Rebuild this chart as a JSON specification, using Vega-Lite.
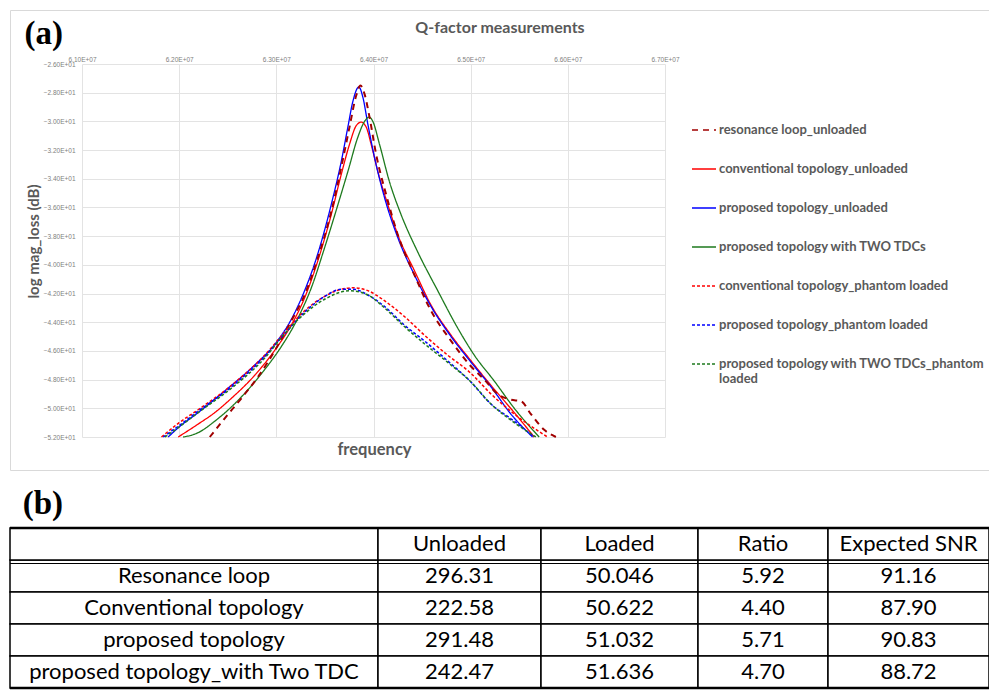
{
  "$schema": "https://vega.github.io/schema/vega-lite/v6.json",
  "padding": {"left": 8, "top": 9, "right": 0, "bottom": 0},
  "config": {"view": {"stroke": null}},
  "spacing": 58,
  "bounds": "flush",
  "datasets": {
    "curves": [
      {"s": "resonance  loop_unloaded", "f": 62.315, "db": -52.0},
      {"s": "resonance  loop_unloaded", "f": 62.469, "db": -50.7},
      {"s": "resonance  loop_unloaded", "f": 62.64, "db": -49.3},
      {"s": "resonance  loop_unloaded", "f": 62.812, "db": -47.8},
      {"s": "resonance  loop_unloaded", "f": 63.0, "db": -45.8},
      {"s": "resonance  loop_unloaded", "f": 63.154, "db": -43.9},
      {"s": "resonance  loop_unloaded", "f": 63.291, "db": -42.1},
      {"s": "resonance  loop_unloaded", "f": 63.428, "db": -39.5},
      {"s": "resonance  loop_unloaded", "f": 63.565, "db": -36.3},
      {"s": "resonance  loop_unloaded", "f": 63.668, "db": -33.2},
      {"s": "resonance  loop_unloaded", "f": 63.753, "db": -30.4},
      {"s": "resonance  loop_unloaded", "f": 63.822, "db": -28.2},
      {"s": "resonance  loop_unloaded", "f": 63.866, "db": -27.5},
      {"s": "resonance  loop_unloaded", "f": 63.908, "db": -28.1},
      {"s": "resonance  loop_unloaded", "f": 63.959, "db": -29.7},
      {"s": "resonance  loop_unloaded", "f": 64.027, "db": -32.3},
      {"s": "resonance  loop_unloaded", "f": 64.13, "db": -35.1},
      {"s": "resonance  loop_unloaded", "f": 64.25, "db": -37.9},
      {"s": "resonance  loop_unloaded", "f": 64.421, "db": -40.7},
      {"s": "resonance  loop_unloaded", "f": 64.592, "db": -43.2},
      {"s": "resonance  loop_unloaded", "f": 64.798, "db": -45.3},
      {"s": "resonance  loop_unloaded", "f": 64.993, "db": -47.0},
      {"s": "resonance  loop_unloaded", "f": 65.14, "db": -48.0},
      {"s": "resonance  loop_unloaded", "f": 65.277, "db": -49.0},
      {"s": "resonance  loop_unloaded", "f": 65.414, "db": -49.4},
      {"s": "resonance  loop_unloaded", "f": 65.517, "db": -49.5},
      {"s": "resonance  loop_unloaded", "f": 65.62, "db": -50.4},
      {"s": "resonance  loop_unloaded", "f": 65.757, "db": -51.5},
      {"s": "resonance  loop_unloaded", "f": 65.877, "db": -52.0},

      {"s": "conventional topology_unloaded", "f": 61.99, "db": -52.0},
      {"s": "conventional topology_unloaded", "f": 62.195, "db": -51.1},
      {"s": "conventional topology_unloaded", "f": 62.366, "db": -50.3},
      {"s": "conventional topology_unloaded", "f": 62.538, "db": -49.3},
      {"s": "conventional topology_unloaded", "f": 62.777, "db": -47.7},
      {"s": "conventional topology_unloaded", "f": 63.0, "db": -45.8},
      {"s": "conventional topology_unloaded", "f": 63.154, "db": -44.2},
      {"s": "conventional topology_unloaded", "f": 63.291, "db": -42.3},
      {"s": "conventional topology_unloaded", "f": 63.428, "db": -39.7},
      {"s": "conventional topology_unloaded", "f": 63.565, "db": -36.5},
      {"s": "conventional topology_unloaded", "f": 63.668, "db": -33.7},
      {"s": "conventional topology_unloaded", "f": 63.753, "db": -31.6},
      {"s": "conventional topology_unloaded", "f": 63.822, "db": -30.3},
      {"s": "conventional topology_unloaded", "f": 63.873, "db": -30.05},
      {"s": "conventional topology_unloaded", "f": 63.925, "db": -30.4},
      {"s": "conventional topology_unloaded", "f": 63.976, "db": -31.6},
      {"s": "conventional topology_unloaded", "f": 64.045, "db": -33.5},
      {"s": "conventional topology_unloaded", "f": 64.147, "db": -35.8},
      {"s": "conventional topology_unloaded", "f": 64.25, "db": -37.9},
      {"s": "conventional topology_unloaded", "f": 64.421, "db": -40.4},
      {"s": "conventional topology_unloaded", "f": 64.592, "db": -42.8},
      {"s": "conventional topology_unloaded", "f": 64.798, "db": -44.9},
      {"s": "conventional topology_unloaded", "f": 64.993, "db": -46.6},
      {"s": "conventional topology_unloaded", "f": 65.209, "db": -48.4},
      {"s": "conventional topology_unloaded", "f": 65.449, "db": -50.3},
      {"s": "conventional topology_unloaded", "f": 65.654, "db": -52.0},

      {"s": "proposed topology_unloaded", "f": 61.887, "db": -52.0},
      {"s": "proposed topology_unloaded", "f": 62.0, "db": -51.3},
      {"s": "proposed topology_unloaded", "f": 62.195, "db": -50.3},
      {"s": "proposed topology_unloaded", "f": 62.503, "db": -48.6},
      {"s": "proposed topology_unloaded", "f": 62.743, "db": -47.2},
      {"s": "proposed topology_unloaded", "f": 63.0, "db": -45.4},
      {"s": "proposed topology_unloaded", "f": 63.154, "db": -43.8},
      {"s": "proposed topology_unloaded", "f": 63.291, "db": -41.8},
      {"s": "proposed topology_unloaded", "f": 63.428, "db": -39.2},
      {"s": "proposed topology_unloaded", "f": 63.565, "db": -35.8},
      {"s": "proposed topology_unloaded", "f": 63.668, "db": -32.8},
      {"s": "proposed topology_unloaded", "f": 63.736, "db": -30.4},
      {"s": "proposed topology_unloaded", "f": 63.788, "db": -28.6},
      {"s": "proposed topology_unloaded", "f": 63.849, "db": -27.6},
      {"s": "proposed topology_unloaded", "f": 63.89, "db": -28.3},
      {"s": "proposed topology_unloaded", "f": 63.942, "db": -30.2},
      {"s": "proposed topology_unloaded", "f": 64.01, "db": -32.5},
      {"s": "proposed topology_unloaded", "f": 64.113, "db": -35.3},
      {"s": "proposed topology_unloaded", "f": 64.25, "db": -38.1},
      {"s": "proposed topology_unloaded", "f": 64.421, "db": -40.7},
      {"s": "proposed topology_unloaded", "f": 64.592, "db": -42.9},
      {"s": "proposed topology_unloaded", "f": 64.798, "db": -45.0},
      {"s": "proposed topology_unloaded", "f": 64.993, "db": -46.7},
      {"s": "proposed topology_unloaded", "f": 65.209, "db": -48.5},
      {"s": "proposed topology_unloaded", "f": 65.414, "db": -50.4},
      {"s": "proposed topology_unloaded", "f": 65.637, "db": -52.0},

      {"s": "proposed topology with TWO TDCs", "f": 62.041, "db": -52.0},
      {"s": "proposed topology with TWO TDCs", "f": 62.195, "db": -51.7},
      {"s": "proposed topology with TWO TDCs", "f": 62.366, "db": -50.9},
      {"s": "proposed topology with TWO TDCs", "f": 62.538, "db": -49.9},
      {"s": "proposed topology with TWO TDCs", "f": 62.709, "db": -48.7},
      {"s": "proposed topology with TWO TDCs", "f": 62.88, "db": -47.3},
      {"s": "proposed topology with TWO TDCs", "f": 63.051, "db": -45.7},
      {"s": "proposed topology with TWO TDCs", "f": 63.223, "db": -43.7},
      {"s": "proposed topology with TWO TDCs", "f": 63.36, "db": -41.6},
      {"s": "proposed topology with TWO TDCs", "f": 63.497, "db": -38.8},
      {"s": "proposed topology with TWO TDCs", "f": 63.634, "db": -35.8},
      {"s": "proposed topology with TWO TDCs", "f": 63.736, "db": -33.5},
      {"s": "proposed topology with TWO TDCs", "f": 63.839, "db": -31.1},
      {"s": "proposed topology with TWO TDCs", "f": 63.908, "db": -30.0},
      {"s": "proposed topology with TWO TDCs", "f": 63.955, "db": -29.7},
      {"s": "proposed topology with TWO TDCs", "f": 63.993, "db": -30.0},
      {"s": "proposed topology with TWO TDCs", "f": 64.062, "db": -31.6},
      {"s": "proposed topology with TWO TDCs", "f": 64.164, "db": -34.2},
      {"s": "proposed topology with TWO TDCs", "f": 64.284, "db": -36.5},
      {"s": "proposed topology with TWO TDCs", "f": 64.455, "db": -39.1},
      {"s": "proposed topology with TWO TDCs", "f": 64.661, "db": -41.8},
      {"s": "proposed topology with TWO TDCs", "f": 64.866, "db": -44.4},
      {"s": "proposed topology with TWO TDCs", "f": 65.038, "db": -46.3},
      {"s": "proposed topology with TWO TDCs", "f": 65.243, "db": -48.1},
      {"s": "proposed topology with TWO TDCs", "f": 65.449, "db": -50.0},
      {"s": "proposed topology with TWO TDCs", "f": 65.705, "db": -52.0},

      {"s": "conventional topology_phantom loaded", "f": 61.818, "db": -52.0},
      {"s": "conventional topology_phantom loaded", "f": 62.0, "db": -51.0},
      {"s": "conventional topology_phantom loaded", "f": 62.195, "db": -50.1},
      {"s": "conventional topology_phantom loaded", "f": 62.538, "db": -48.4},
      {"s": "conventional topology_phantom loaded", "f": 62.88, "db": -46.3},
      {"s": "conventional topology_phantom loaded", "f": 63.086, "db": -44.7},
      {"s": "conventional topology_phantom loaded", "f": 63.291, "db": -43.2},
      {"s": "conventional topology_phantom loaded", "f": 63.497, "db": -42.2},
      {"s": "conventional topology_phantom loaded", "f": 63.668, "db": -41.7},
      {"s": "conventional topology_phantom loaded", "f": 63.798, "db": -41.6},
      {"s": "conventional topology_phantom loaded", "f": 63.942, "db": -41.8},
      {"s": "conventional topology_phantom loaded", "f": 64.113, "db": -42.5},
      {"s": "conventional topology_phantom loaded", "f": 64.318, "db": -43.6},
      {"s": "conventional topology_phantom loaded", "f": 64.524, "db": -44.9},
      {"s": "conventional topology_phantom loaded", "f": 64.764, "db": -46.3},
      {"s": "conventional topology_phantom loaded", "f": 64.993, "db": -47.5},
      {"s": "conventional topology_phantom loaded", "f": 65.209, "db": -49.0},
      {"s": "conventional topology_phantom loaded", "f": 65.449, "db": -50.4},
      {"s": "conventional topology_phantom loaded", "f": 65.791, "db": -52.0},

      {"s": "proposed topology_phantom loaded", "f": 61.836, "db": -52.0},
      {"s": "proposed topology_phantom loaded", "f": 62.0, "db": -51.2},
      {"s": "proposed topology_phantom loaded", "f": 62.195, "db": -50.2},
      {"s": "proposed topology_phantom loaded", "f": 62.538, "db": -48.5},
      {"s": "proposed topology_phantom loaded", "f": 62.88, "db": -46.4},
      {"s": "proposed topology_phantom loaded", "f": 63.086, "db": -44.8},
      {"s": "proposed topology_phantom loaded", "f": 63.291, "db": -43.3},
      {"s": "proposed topology_phantom loaded", "f": 63.497, "db": -42.2},
      {"s": "proposed topology_phantom loaded", "f": 63.668, "db": -41.7},
      {"s": "proposed topology_phantom loaded", "f": 63.788, "db": -41.7},
      {"s": "proposed topology_phantom loaded", "f": 63.942, "db": -42.1},
      {"s": "proposed topology_phantom loaded", "f": 64.113, "db": -42.9},
      {"s": "proposed topology_phantom loaded", "f": 64.318, "db": -44.2},
      {"s": "proposed topology_phantom loaded", "f": 64.524, "db": -45.3},
      {"s": "proposed topology_phantom loaded", "f": 64.764, "db": -46.7},
      {"s": "proposed topology_phantom loaded", "f": 64.993, "db": -48.1},
      {"s": "proposed topology_phantom loaded", "f": 65.209, "db": -49.7},
      {"s": "proposed topology_phantom loaded", "f": 65.449, "db": -50.9},
      {"s": "proposed topology_phantom loaded", "f": 65.654, "db": -52.0},

      {"s": "proposed topology with TWO TDCs_phantom loaded", "f": 61.853, "db": -52.0},
      {"s": "proposed topology with TWO TDCs_phantom loaded", "f": 62.0, "db": -51.3},
      {"s": "proposed topology with TWO TDCs_phantom loaded", "f": 62.195, "db": -50.3},
      {"s": "proposed topology with TWO TDCs_phantom loaded", "f": 62.538, "db": -48.6},
      {"s": "proposed topology with TWO TDCs_phantom loaded", "f": 62.88, "db": -46.5},
      {"s": "proposed topology with TWO TDCs_phantom loaded", "f": 63.086, "db": -44.8},
      {"s": "proposed topology with TWO TDCs_phantom loaded", "f": 63.291, "db": -43.4},
      {"s": "proposed topology with TWO TDCs_phantom loaded", "f": 63.497, "db": -42.4},
      {"s": "proposed topology with TWO TDCs_phantom loaded", "f": 63.753, "db": -41.8},
      {"s": "proposed topology with TWO TDCs_phantom loaded", "f": 63.942, "db": -42.1},
      {"s": "proposed topology with TWO TDCs_phantom loaded", "f": 64.113, "db": -43.0},
      {"s": "proposed topology with TWO TDCs_phantom loaded", "f": 64.318, "db": -44.3},
      {"s": "proposed topology with TWO TDCs_phantom loaded", "f": 64.524, "db": -45.5},
      {"s": "proposed topology with TWO TDCs_phantom loaded", "f": 64.764, "db": -46.8},
      {"s": "proposed topology with TWO TDCs_phantom loaded", "f": 64.993, "db": -48.1},
      {"s": "proposed topology with TWO TDCs_phantom loaded", "f": 65.209, "db": -49.7},
      {"s": "proposed topology with TWO TDCs_phantom loaded", "f": 65.449, "db": -51.0},
      {"s": "proposed topology with TWO TDCs_phantom loaded", "f": 65.671, "db": -52.0}
    ],
    "qf": [
      {"design": "Resonance loop", "Unloaded": 296.31, "Loaded": 50.046, "Ratio": 5.92, "SNR": 91.16},
      {"design": "Conventional topology", "Unloaded": 222.58, "Loaded": 50.622, "Ratio": 4.40, "SNR": 87.90},
      {"design": "proposed topology", "Unloaded": 291.48, "Loaded": 51.032, "Ratio": 5.71, "SNR": 90.83},
      {"design": "proposed topology_with Two TDC", "Unloaded": 242.47, "Loaded": 51.636, "Ratio": 4.70, "SNR": 88.72}
    ]
  },
  "vconcat": [
    {
      "width": 980,
      "height": 460,
      "view": {"stroke": "#d9d9d9", "strokeWidth": 1},
      "title": {"text": "Q-factor measurements", "frame": "group", "anchor": "middle", "offset": -26, "font": "Lato", "fontSize": 16, "fontWeight": "bold", "color": "#595959"},
      "data": {"name": "curves"},
      "resolve": {"axis": {"x": "independent", "y": "independent"}},
      "encoding": {
        "color": {
          "field": "s", "type": "nominal",
          "scale": {
            "domain": ["resonance  loop_unloaded", "conventional topology_unloaded", "proposed topology_unloaded", "proposed topology with TWO TDCs", "conventional topology_phantom loaded", "proposed topology_phantom loaded", "proposed topology with TWO TDCs_phantom loaded"],
            "range": ["#a00000", "#ff0000", "#0000ff", "#1e7a1e", "#ff0000", "#0000ff", "#1e7a1e"]
          },
          "legend": {
            "orient": "none", "legendX": 681, "legendY": 107, "title": null, "padding": 0,
            "symbolType": "stroke", "symbolSize": 576, "symbolStrokeWidth": 1.6,
            "labelFont": "Lato", "labelFontSize": 13, "labelFontWeight": "bold", "labelColor": "#595959",
            "labelOffset": 2, "labelLimit": 400, "rowPadding": 19,
            "labelExpr": "datum.label == 'proposed topology with TWO TDCs_phantom loaded' ? ['proposed topology with TWO TDCs_phantom', 'loaded'] : datum.label"
          }
        },
        "strokeDash": {
          "field": "s", "type": "nominal",
          "scale": {
            "domain": ["resonance  loop_unloaded", "conventional topology_unloaded", "proposed topology_unloaded", "proposed topology with TWO TDCs", "conventional topology_phantom loaded", "proposed topology_phantom loaded", "proposed topology with TWO TDCs_phantom loaded"],
            "range": [[6, 5], [1, 0], [1, 0], [1, 0], [3, 2], [3, 2], [3, 2]]
          },
          "legend": {
            "orient": "none", "legendX": 681, "legendY": 107, "title": null, "padding": 0,
            "symbolType": "stroke", "symbolSize": 576, "symbolStrokeWidth": 1.6,
            "labelFont": "Lato", "labelFontSize": 13, "labelFontWeight": "bold", "labelColor": "#595959",
            "labelOffset": 2, "labelLimit": 400, "rowPadding": 19,
            "labelExpr": "datum.label == 'proposed topology with TWO TDCs_phantom loaded' ? ['proposed topology with TWO TDCs_phantom', 'loaded'] : datum.label"
          }
        }
      },
      "layer": [
        {
          "transform": [{"filter": "datum.s != 'resonance  loop_unloaded' && indexof(datum.s, 'phantom') < 0"}],
          "mark": {"type": "line", "interpolate": "monotone", "strokeWidth": 1.3},
          "encoding": {
            "x": {
              "field": "f", "type": "quantitative",
              "scale": {"domain": [61, 67], "range": [72, 655], "nice": false, "zero": false},
              "axis": {
                "orient": "top", "offset": -54, "values": [61, 62, 63, 64, 65, 66, 67],
                "labelExpr": "replace(format(datum.value * 1000000, '.2e'), 'e+', 'E+0')",
                "grid": true, "gridColor": "#e3e3e3", "gridWidth": 1, "ticks": false, "domain": false,
                "labelFont": "Liberation Sans", "labelFontSize": 6.5, "labelColor": "#808080", "labelPadding": 2,
                "labelFlush": false, "labelOverlap": false,
                "title": "(a)", "titleFont": "Liberation Serif", "titleFontSize": 33, "titleFontWeight": "bold", "titleColor": "#000000",
                "titleAlign": "left", "titleAnchor": "start", "titleX": 14, "titleY": -21, "titleBaseline": "alphabetic"
              }
            },
            "y": {
              "field": "db", "type": "quantitative",
              "scale": {"domain": [-52, -26], "range": [427, 54], "nice": false, "zero": false},
              "axis": {
                "orient": "left", "offset": -72, "values": [-52, -50, -48, -46, -44, -42, -40, -38, -36, -34, -32, -30, -28, -26],
                "labelExpr": "replace(format(datum.value, '.2e'), 'e+', 'E+0')",
                "grid": true, "gridColor": "#e3e3e3", "gridWidth": 1, "ticks": false, "domain": false,
                "labelFont": "Liberation Sans", "labelFontSize": 6.5, "labelColor": "#808080", "labelPadding": 7,
                "labelFlush": false, "labelOverlap": false,
                "title": "log mag_loss (dB)", "titleFont": "Lato", "titleFontSize": 15, "titleFontWeight": "bold", "titleColor": "#595959",
                "titleAngle": -90, "titleX": -49, "titleY": 231, "titleBaseline": "middle", "titleAlign": "center"
              }
            }
          }
        },
        {
          "transform": [{"filter": "datum.s == 'resonance  loop_unloaded'"}],
          "mark": {"type": "line", "interpolate": "monotone", "strokeWidth": 2},
          "encoding": {
            "x": {"field": "f", "type": "quantitative", "axis": null},
            "y": {"field": "db", "type": "quantitative", "axis": null}
          }
        },
        {
          "transform": [{"filter": "indexof(datum.s, 'phantom') >= 0"}],
          "mark": {"type": "line", "interpolate": "monotone", "strokeWidth": 1.5},
          "encoding": {
            "x": {
              "field": "f", "type": "quantitative",
              "axis": {
                "orient": "bottom", "offset": -33, "labels": false, "ticks": false, "domain": false, "grid": false,
                "title": "frequency", "titleFont": "Lato", "titleFontSize": 16.5, "titleFontWeight": "bold", "titleColor": "#595959",
                "titleX": 364, "titleY": 17, "titleBaseline": "alphabetic", "titleAlign": "center"
              }
            },
            "y": {"field": "db", "type": "quantitative", "axis": null}
          }
        }
      ]
    },
    {
      "title": {"text": "(b)", "anchor": "start", "dx": 14, "offset": 6, "font": "Liberation Serif", "fontSize": 33, "fontWeight": "bold", "color": "#000000"},
      "spacing": 0,
      "bounds": "flush",
      "hconcat": [
        {
          "width": 368, "height": 160,
          "data": {"name": "qf"},
          "encoding": {"y": {"field": "design", "type": "nominal", "axis": null, "scale": {"domain": ["hdr", "Resonance loop", "Conventional topology", "proposed topology", "proposed topology_with Two TDC"], "paddingInner": 0, "paddingOuter": 0}}},
          "layer": [
            {"mark": {"type": "rect", "fill": "white", "stroke": "black", "strokeWidth": 1.5}},
            {"data": {"values": [{}]}, "mark": {"type": "rect", "fill": "white", "stroke": "black", "strokeWidth": 1.5}, "encoding": {"y": {"datum": "hdr", "type": "nominal"}}},
            {"data": {"values": [{}]}, "mark": {"type": "rule", "yOffset": 3.5, "color": "black", "strokeWidth": 1}, "encoding": {"y": {"datum": "hdr", "type": "nominal", "bandPosition": 1}}},
            {"data": {"values": [{}]}, "mark": {"type": "rule", "color": "black", "strokeWidth": 2.5}, "encoding": {"y": {"datum": "hdr", "type": "nominal", "bandPosition": 0}}},
            {"data": {"values": [{}]}, "mark": {"type": "rule", "color": "black", "strokeWidth": 2.5}, "encoding": {"y": {"datum": "proposed topology_with Two TDC", "type": "nominal", "bandPosition": 1}}},
            {"mark": {"type": "text", "font": "Lato", "fontSize": 22, "color": "black"}, "encoding": {"text": {"field": "design"}}}
          ]
        },
        {
          "width": 163, "height": 160,
          "data": {"name": "qf"},
          "encoding": {"y": {"field": "design", "type": "nominal", "axis": null, "scale": {"domain": ["hdr", "Resonance loop", "Conventional topology", "proposed topology", "proposed topology_with Two TDC"], "paddingInner": 0, "paddingOuter": 0}}},
          "layer": [
            {"mark": {"type": "rect", "fill": "white", "stroke": "black", "strokeWidth": 1.5}},
            {"data": {"values": [{}]}, "mark": {"type": "rect", "fill": "white", "stroke": "black", "strokeWidth": 1.5}, "encoding": {"y": {"datum": "hdr", "type": "nominal"}}},
            {"data": {"values": [{}]}, "mark": {"type": "rule", "yOffset": 3.5, "color": "black", "strokeWidth": 1}, "encoding": {"y": {"datum": "hdr", "type": "nominal", "bandPosition": 1}}},
            {"data": {"values": [{}]}, "mark": {"type": "rule", "color": "black", "strokeWidth": 2.5}, "encoding": {"y": {"datum": "hdr", "type": "nominal", "bandPosition": 0}}},
            {"data": {"values": [{}]}, "mark": {"type": "rule", "color": "black", "strokeWidth": 2.5}, "encoding": {"y": {"datum": "proposed topology_with Two TDC", "type": "nominal", "bandPosition": 1}}},
            {"mark": {"type": "text", "font": "Lato", "fontSize": 22, "color": "black"}, "encoding": {"text": {"field": "Unloaded", "format": ".2f"}}},
            {"data": {"values": [{}]}, "mark": {"type": "text", "font": "Lato", "fontSize": 22, "color": "black"}, "encoding": {"y": {"datum": "hdr", "type": "nominal"}, "text": {"value": "Unloaded"}}}
          ]
        },
        {
          "width": 157, "height": 160,
          "data": {"name": "qf"},
          "encoding": {"y": {"field": "design", "type": "nominal", "axis": null, "scale": {"domain": ["hdr", "Resonance loop", "Conventional topology", "proposed topology", "proposed topology_with Two TDC"], "paddingInner": 0, "paddingOuter": 0}}},
          "layer": [
            {"mark": {"type": "rect", "fill": "white", "stroke": "black", "strokeWidth": 1.5}},
            {"data": {"values": [{}]}, "mark": {"type": "rect", "fill": "white", "stroke": "black", "strokeWidth": 1.5}, "encoding": {"y": {"datum": "hdr", "type": "nominal"}}},
            {"data": {"values": [{}]}, "mark": {"type": "rule", "yOffset": 3.5, "color": "black", "strokeWidth": 1}, "encoding": {"y": {"datum": "hdr", "type": "nominal", "bandPosition": 1}}},
            {"data": {"values": [{}]}, "mark": {"type": "rule", "color": "black", "strokeWidth": 2.5}, "encoding": {"y": {"datum": "hdr", "type": "nominal", "bandPosition": 0}}},
            {"data": {"values": [{}]}, "mark": {"type": "rule", "color": "black", "strokeWidth": 2.5}, "encoding": {"y": {"datum": "proposed topology_with Two TDC", "type": "nominal", "bandPosition": 1}}},
            {"mark": {"type": "text", "font": "Lato", "fontSize": 22, "color": "black"}, "encoding": {"text": {"field": "Loaded", "format": ".3f"}}},
            {"data": {"values": [{}]}, "mark": {"type": "text", "font": "Lato", "fontSize": 22, "color": "black"}, "encoding": {"y": {"datum": "hdr", "type": "nominal"}, "text": {"value": "Loaded"}}}
          ]
        },
        {
          "width": 130, "height": 160,
          "data": {"name": "qf"},
          "encoding": {"y": {"field": "design", "type": "nominal", "axis": null, "scale": {"domain": ["hdr", "Resonance loop", "Conventional topology", "proposed topology", "proposed topology_with Two TDC"], "paddingInner": 0, "paddingOuter": 0}}},
          "layer": [
            {"mark": {"type": "rect", "fill": "white", "stroke": "black", "strokeWidth": 1.5}},
            {"data": {"values": [{}]}, "mark": {"type": "rect", "fill": "white", "stroke": "black", "strokeWidth": 1.5}, "encoding": {"y": {"datum": "hdr", "type": "nominal"}}},
            {"data": {"values": [{}]}, "mark": {"type": "rule", "yOffset": 3.5, "color": "black", "strokeWidth": 1}, "encoding": {"y": {"datum": "hdr", "type": "nominal", "bandPosition": 1}}},
            {"data": {"values": [{}]}, "mark": {"type": "rule", "color": "black", "strokeWidth": 2.5}, "encoding": {"y": {"datum": "hdr", "type": "nominal", "bandPosition": 0}}},
            {"data": {"values": [{}]}, "mark": {"type": "rule", "color": "black", "strokeWidth": 2.5}, "encoding": {"y": {"datum": "proposed topology_with Two TDC", "type": "nominal", "bandPosition": 1}}},
            {"mark": {"type": "text", "font": "Lato", "fontSize": 22, "color": "black"}, "encoding": {"text": {"field": "Ratio", "format": ".2f"}}},
            {"data": {"values": [{}]}, "mark": {"type": "text", "font": "Lato", "fontSize": 22, "color": "black"}, "encoding": {"y": {"datum": "hdr", "type": "nominal"}, "text": {"value": "Ratio"}}}
          ]
        },
        {
          "width": 161, "height": 160,
          "data": {"name": "qf"},
          "encoding": {"y": {"field": "design", "type": "nominal", "axis": null, "scale": {"domain": ["hdr", "Resonance loop", "Conventional topology", "proposed topology", "proposed topology_with Two TDC"], "paddingInner": 0, "paddingOuter": 0}}},
          "layer": [
            {"mark": {"type": "rect", "fill": "white", "stroke": "black", "strokeWidth": 1.5}},
            {"data": {"values": [{}]}, "mark": {"type": "rect", "fill": "white", "stroke": "black", "strokeWidth": 1.5}, "encoding": {"y": {"datum": "hdr", "type": "nominal"}}},
            {"data": {"values": [{}]}, "mark": {"type": "rule", "yOffset": 3.5, "color": "black", "strokeWidth": 1}, "encoding": {"y": {"datum": "hdr", "type": "nominal", "bandPosition": 1}}},
            {"data": {"values": [{}]}, "mark": {"type": "rule", "color": "black", "strokeWidth": 2.5}, "encoding": {"y": {"datum": "hdr", "type": "nominal", "bandPosition": 0}}},
            {"data": {"values": [{}]}, "mark": {"type": "rule", "color": "black", "strokeWidth": 2.5}, "encoding": {"y": {"datum": "proposed topology_with Two TDC", "type": "nominal", "bandPosition": 1}}},
            {"mark": {"type": "text", "font": "Lato", "fontSize": 22, "color": "black"}, "encoding": {"text": {"field": "SNR", "format": ".2f"}}},
            {"data": {"values": [{}]}, "mark": {"type": "text", "font": "Lato", "fontSize": 22, "color": "black"}, "encoding": {"y": {"datum": "hdr", "type": "nominal"}, "text": {"value": "Expected SNR"}}}
          ]
        }
      ]
    }
  ]
}
